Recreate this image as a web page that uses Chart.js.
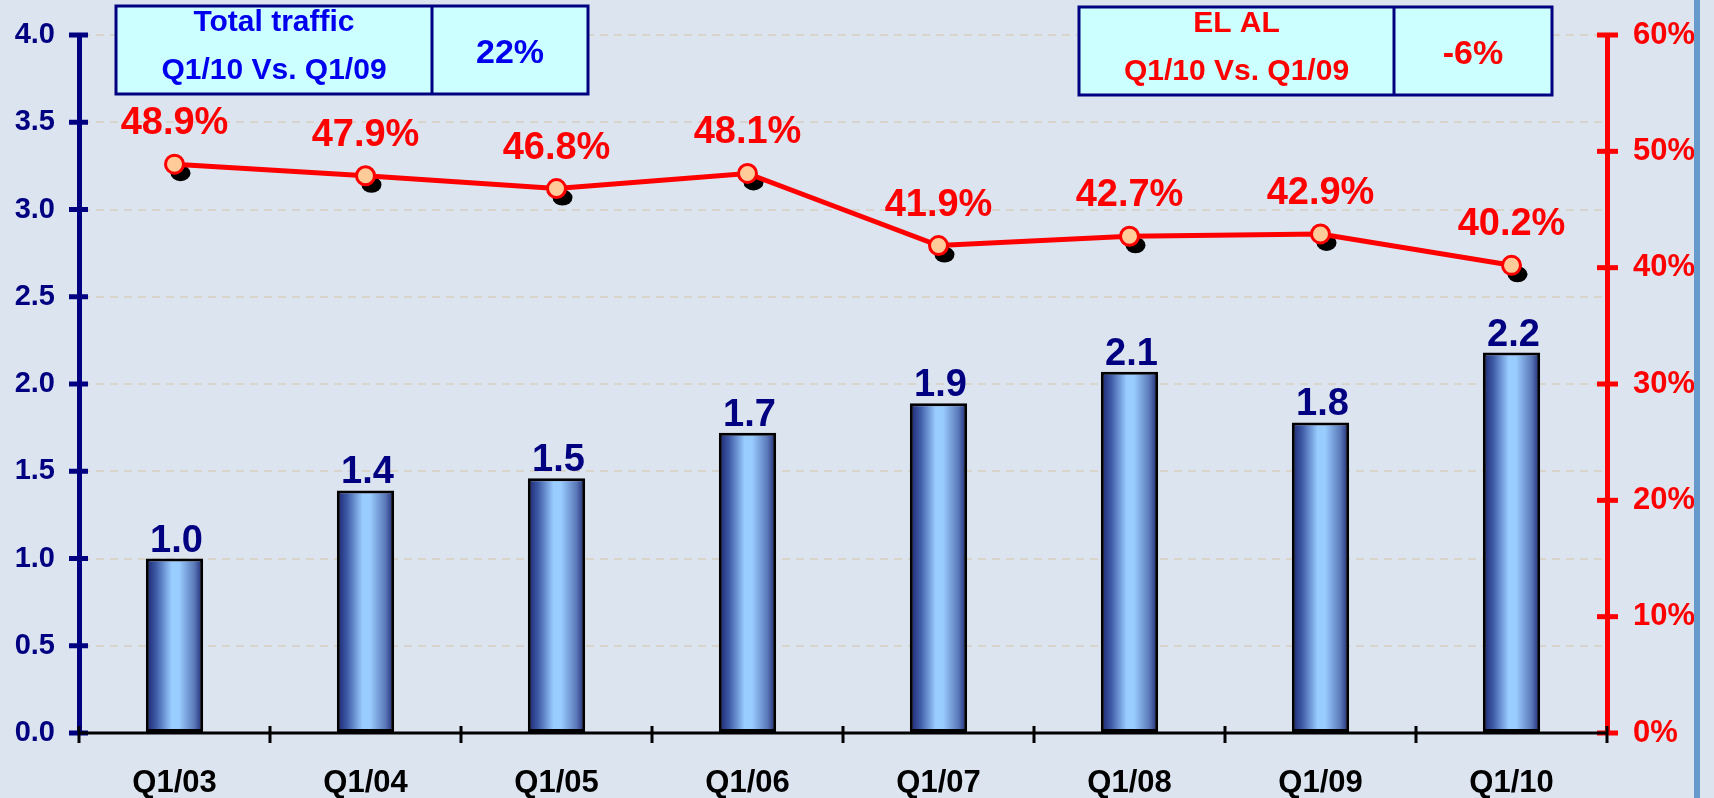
<!DOCTYPE html>
<html>
<head>
<meta charset="utf-8">
<script src="https://cdn.jsdelivr.net/npm/chart.js@4.4.1/dist/chart.umd.min.js"></script>
<style>
    body { margin: 0; background: #DCE4F0; }
    canvas { display: block; }
</style>
</head>
<body>
<canvas id="trafficChart" width="1714" height="798"></canvas>
<script>
// values
const quarters = ['Q1/03', 'Q1/04', 'Q1/05', 'Q1/06', 'Q1/07', 'Q1/08', 'Q1/09', 'Q1/10'];
const totalTraffic = [1.0, 1.39, 1.46, 1.72, 1.89, 2.07, 1.78, 2.18];   // millions of passengers
const elalShare = [48.9, 47.9, 46.8, 48.1, 41.9, 42.7, 42.9, 40.2];     // %

const trafficBox = ['Total traffic', 'Q1/10 Vs. Q1/09', '22%'];
const elalBox = ['EL AL', 'Q1/10 Vs. Q1/09', '-6%'];

const FONT = '"Liberation Sans", Arial, sans-serif';
const NAVY = '#000080';
const RED = '#FF0000';

// bar fill: dark edges, light blue middle
const barFill = (c) => {
    const xs = c.chart.scales.x;
    if (!xs || c.type !== 'data') return '#99CCFF';
    const cx = xs.getPixelForValue(c.dataIndex);
    const w = xs.width / quarters.length * 0.3;
    if (!isFinite(cx) || !isFinite(w) || w <= 0) return '#99CCFF';
    const g = c.chart.ctx.createLinearGradient(cx - w / 2, 0, cx + w / 2, 0);
    g.addColorStop(0, '#1A2370');
    g.addColorStop(0.18, '#3E5AA6');
    g.addColorStop(0.45, '#99CCFF');
    g.addColorStop(0.58, '#99CCFF');
    g.addColorStop(0.85, '#5A78B8');
    g.addColorStop(1, '#1A2370');
    return g;
};

const drawBox = (ctx, x, y, w, h, divX, texts, color) => {
    ctx.save();
    ctx.fillStyle = '#CCFFFF';
    ctx.fillRect(x, y, w, h);
    ctx.strokeStyle = NAVY;
    ctx.lineWidth = 3;
    ctx.strokeRect(x, y, w, h);
    ctx.beginPath();
    ctx.moveTo(divX, y);
    ctx.lineTo(divX, y + h);
    ctx.stroke();
    ctx.fillStyle = color;
    ctx.textAlign = 'center';
    ctx.textBaseline = 'middle';
    ctx.font = `bold 30px ${FONT}`;
    const mid = (x + divX) / 2;
    ctx.fillText(texts[0], mid, y + 17);
    ctx.fillText(texts[1], mid, y + 65);
    ctx.font = `bold 34px ${FONT}`;
    ctx.fillText(texts[2], (divX + x + w) / 2, y + h / 2 + 4);
    ctx.restore();
};

// keep the value axes from reserving extra room for their end labels
const noLabelPadding = (scale) => {
    scale.paddingTop = 0;
    scale.paddingBottom = 0;
};

const slidePlugin = {
    id: 'slideDecor',
    beforeDraw(chart) {
        const ctx = chart.ctx;
        ctx.save();
        ctx.fillStyle = '#DCE4F0';
        ctx.fillRect(0, 0, chart.width, chart.height);
        ctx.restore();
    },
    beforeDatasetDraw(chart, args) {
        // dark drop shadows under the line markers
        if (args.index !== 1) return;
        const ctx = chart.ctx;
        ctx.save();
        ctx.fillStyle = '#000000';
        args.meta.data.forEach(pt => {
            ctx.beginPath();
            ctx.ellipse(pt.x + 6, pt.y + 9, 10, 8, 0, 0, Math.PI * 2);
            ctx.fill();
        });
        ctx.restore();
    },
    afterDatasetsDraw(chart) {
        const ctx = chart.ctx;
        ctx.save();
        ctx.textAlign = 'center';
        ctx.textBaseline = 'alphabetic';
        ctx.font = `bold 38px ${FONT}`;

        ctx.fillStyle = NAVY;
        chart.getDatasetMeta(0).data.forEach((bar, i) => {
            ctx.fillText(totalTraffic[i].toFixed(1), bar.x + 2, bar.y - 7);
        });

        ctx.fillStyle = RED;
        chart.getDatasetMeta(1).data.forEach((pt, i) => {
            ctx.fillText(elalShare[i].toFixed(1) + '%', pt.x, pt.y - 30);
        });
        ctx.restore();
    },
    afterDraw(chart) {
        const ctx = chart.ctx;
        const { x, y, y1 } = chart.scales;
        ctx.save();
        ctx.lineCap = 'butt';

        // cross ticks on the value axes
        ctx.lineWidth = 5;
        ctx.strokeStyle = NAVY;
        y.ticks.forEach(t => {
            const py = y.getPixelForValue(t.value);
            ctx.beginPath();
            ctx.moveTo(x.left - 10, py);
            ctx.lineTo(x.left + 9, py);
            ctx.stroke();
        });
        ctx.strokeStyle = RED;
        y1.ticks.forEach(t => {
            const py = y1.getPixelForValue(t.value);
            ctx.beginPath();
            ctx.moveTo(x.right - 10, py);
            ctx.lineTo(x.right + 11, py);
            ctx.stroke();
        });

        // category axis line and boundary ticks
        ctx.strokeStyle = '#000000';
        ctx.lineWidth = 3;
        ctx.beginPath();
        ctx.moveTo(x.left, y.bottom);
        ctx.lineTo(x.right, y.bottom);
        ctx.stroke();
        const step = x.width / quarters.length;
        for (let i = 0; i <= quarters.length; i++) {
            const px = x.left + i * step;
            ctx.beginPath();
            ctx.moveTo(px, y.bottom - 7);
            ctx.lineTo(px, y.bottom + 10);
            ctx.stroke();
        }

        drawBox(ctx, 116, 6, 472, 88, 432, trafficBox, '#0000EE');
        drawBox(ctx, 1079, 7, 473, 88, 1394, elalBox, RED);

        // slide frame on the right
        ctx.fillStyle = '#6699CC';
        ctx.fillRect(1694, 0, 6, chart.height);
        ctx.restore();
    }
};

const ctx = document.getElementById('trafficChart').getContext('2d');

new Chart(ctx, {
    type: 'bar',
    data: {
        labels: quarters,
        datasets: [
            {
                label: 'Total traffic',
                data: totalTraffic,
                yAxisID: 'y',
                backgroundColor: barFill,
                borderColor: '#000000',
                borderWidth: 3,
                borderSkipped: false,
                categoryPercentage: 1,
                barPercentage: 0.3,
                order: 2
            },
            {
                type: 'line',
                label: 'EL AL share',
                data: elalShare,
                yAxisID: 'y1',
                borderColor: RED,
                borderWidth: 5,
                tension: 0,
                pointRadius: 9,
                pointBorderWidth: 3,
                pointBorderColor: RED,
                pointBackgroundColor: '#FFCC99',
                order: 1
            }
        ]
    },
    options: {
        responsive: false,
        animation: false,
        layout: {
            padding: { top: 35, left: 0, right: 0, bottom: 0 }
        },
        plugins: {
            legend: { display: false },
            tooltip: { enabled: false }
        },
        scales: {
            x: {
                offset: true,
                grid: { display: false },
                border: { display: false },
                ticks: {
                    color: '#000000',
                    font: { family: FONT, size: 31, weight: 'bold' },
                    padding: 24,
                    maxRotation: 0
                },
                afterFit: (scale) => { scale.height = 65; }
            },
            y: {
                position: 'left',
                min: 0,
                max: 4,
                ticks: {
                    stepSize: 0.5,
                    color: NAVY,
                    padding: 24,
                    font: { family: FONT, size: 29, weight: 'bold' },
                    callback: (v) => Number(v).toFixed(1)
                },
                grid: {
                    color: '#D8D3CB',
                    lineWidth: 2,
                    drawTicks: false
                },
                border: { display: true, color: NAVY, width: 5, dash: [8, 6] },
                afterFit: (scale) => { scale.width = 79; noLabelPadding(scale); }
            },
            y1: {
                position: 'right',
                min: 0,
                max: 60,
                ticks: {
                    stepSize: 10,
                    color: RED,
                    padding: 26,
                    font: { family: FONT, size: 31, weight: 'bold' },
                    callback: (v) => v + '%'
                },
                grid: { drawOnChartArea: false, drawTicks: false },
                border: { display: true, color: RED, width: 5 },
                afterFit: (scale) => { scale.width = 107; noLabelPadding(scale); }
            }
        }
    },
    plugins: [slidePlugin]
});
</script>
</body>
</html>
